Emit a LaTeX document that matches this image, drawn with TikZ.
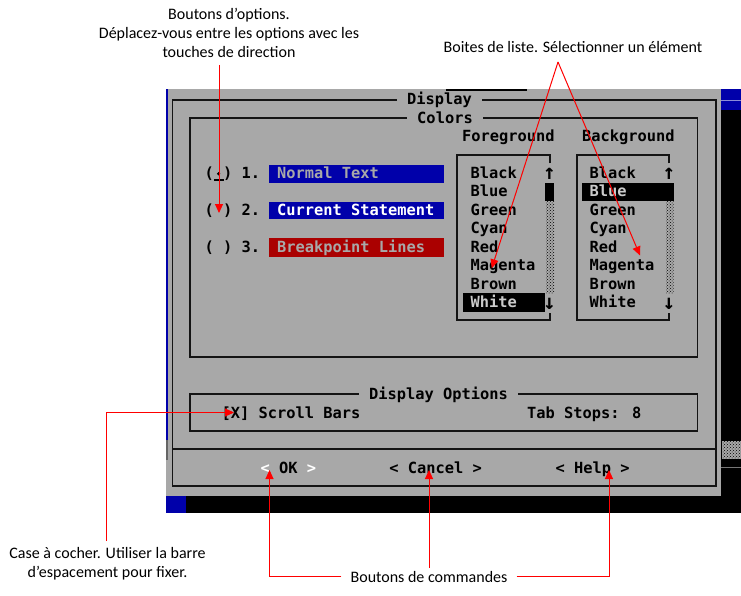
\documentclass[tikz,border=0pt]{standalone}
\usepackage{fontspec}
\setmainfont{Carlito}
\newfontfamily\dosfamily{DejaVu Sans Mono}
\usetikzlibrary{patterns,arrows.meta}
\definecolor{dosgrey}{RGB}{168,168,168}
\definecolor{dosblue}{RGB}{0,0,170}
\definecolor{dosred}{RGB}{170,0,0}
\definecolor{frameblack}{RGB}{20,20,20}
\newcommand\dosfnt{\dosfamily\bfseries\fontsize{15.37}{18}\selectfont}
\newcommand\dosarrowfnt{\dosfamily\bfseries\fontsize{21}{21}\selectfont}
\tikzset{
  dos/.style={font=\dosfnt, inner sep=0pt, anchor=base west, text=black},
  dosarrow/.style={font=\dosarrowfnt, inner sep=0pt, anchor=base, text=black},
  dostitle/.style={font=\dosfnt, inner xsep=9.8pt, inner ysep=1pt, anchor=base, fill=dosgrey, text=black},
  frame/.style={draw=frameblack, line width=1.8pt},
  track/.style={pattern=crosshatch dots, pattern color=black},
  ann/.style={font=\fontsize{16}{19}\selectfont, align=center, inner sep=0pt, anchor=base, text=black},
  callout/.style={draw=red, line width=1pt, -{Triangle[length=9pt,width=8pt]}},
}
\begin{document}
\begin{tikzpicture}[x=1pt,y=-1pt]
\useasboundingbox (0,0) rectangle (741,596);
% ---------------- screen background ----------------
\fill[dosgrey] (168,89) rectangle (721,496);
\fill[dosblue] (166,89) rectangle (168,440);
\fill[dosgrey!60!black] (166,440) rectangle (168,460);
\fill[dosgrey] (166,460) rectangle (168,496);
\fill[dosblue] (166,496) rectangle (186,513);
\fill[black] (186,496) rectangle (741,513);
\fill[black] (721,110) rectangle (741,496);
\fill[dosblue] (721,89) rectangle (741,110);
\draw[dosblue!45!white, line width=1pt] (721,100.3) -- (741,100.3);
\fill[dosgrey] (722,441) rectangle (741,459);
\fill[track] (722,441) rectangle (741,459);
\draw[dosgrey!70!black, line width=1.5pt] (721,467.7) -- (741,467.7);
\fill[black] (446,89) rectangle (527,91);
% ---------------- frames ----------------
\draw[frame] (172.5,100) rectangle (716,486);
\draw[frame] (190,118.3) rectangle (697.5,357.3);
\draw[frame] (190,394) rectangle (697.5,431);
\draw[frame] (172.5,449.3) -- (716,449.3);
\node[dostitle] (tdisplay) at (439.5,105) {Display};
\node[dostitle] (tcolors) at (445,123.3) {Colors};
\node[dostitle] (topts) at (438.5,399.6) {Display Options};
% ---------------- option buttons ----------------
\node[dos] (o1) at (204.5,178.8) {( ) 1.};
\node[dos] (o2) at (204.5,215.8) {( ) 2.};
\node[dos] (o3) at (204.5,252.8) {( ) 3.};
\fill[black] (218.6,173.8) circle (1.8);
\fill[black] (213.5,179) rectangle (223.5,181);
\fill[dosblue] (268.5,165) rectangle (443.7,182.7);
\fill[dosblue] (268.5,201.7) rectangle (443.7,219.3);
\fill[dosred] (268.5,238.3) rectangle (443.7,256.7);
\node[dos, text=dosgrey] (b1) at (277,178.8) {Normal Text};
\node[dos, text=white] (b2) at (277,215.8) {Current Statement};
\node[dos, text=dosgrey] (b3) at (277,252.8) {Breakpoint Lines};
% ---------------- list boxes ----------------
\node[dos] (hfg) at (462,142) {Foreground};
\node[dos] (hbg) at (582,142) {Background};
% foreground box
\draw[frame] (550,163.3) -- (550,155) -- (457,155) -- (457,320) -- (550,320) -- (550,313);
\fill[black] (545,183) rectangle (554,201);
\fill[dosgrey] (546,201) rectangle (554,293);
\fill[track] (546,201) rectangle (554,293);
\fill[black] (462.5,293.3) rectangle (545,311.7);
\node[dosarrow] (fup) at (549.5,180) {↑};
\node[dosarrow] (fdn) at (549.5,309) {↓};
\node[dos] (f1) at (470.5,178.3) {Black};
\node[dos] (f2) at (470.5,196.8) {Blue};
\node[dos] (f3) at (470.5,215.3) {Green};
\node[dos] (f4) at (470.5,233.8) {Cyan};
\node[dos] (f5) at (470.5,252.3) {Red};
\node[dos] (f6) at (470.5,270.8) {Magenta};
\node[dos] (f7) at (470.5,289.3) {Brown};
\node[dos, text=dosgrey!60!white] (f8) at (470.5,307.8) {White};
% background box
\draw[frame] (669.3,163.3) -- (669.3,155) -- (577,155) -- (577,320) -- (669.3,320) -- (669.3,313);
\fill[dosgrey] (666,201) rectangle (673.5,293);
\fill[track] (666,201) rectangle (673.5,293);
\fill[black] (582.3,183.3) rectangle (673.5,201);
\node[dosarrow] (bup) at (669,180) {↑};
\node[dosarrow] (bdn) at (669,309) {↓};
\node[dos] (g1) at (589.5,178.3) {Black};
\node[dos, text=dosgrey!60!white] (g2) at (589.5,196.8) {Blue};
\node[dos] (g3) at (589.5,215.3) {Green};
\node[dos] (g4) at (589.5,233.8) {Cyan};
\node[dos] (g5) at (589.5,252.3) {Red};
\node[dos] (g6) at (589.5,270.8) {Magenta};
\node[dos] (g7) at (589.5,289.3) {Brown};
\node[dos] (g8) at (589.5,307.8) {White};
% ---------------- display options ----------------
\node[dos] (scroll) at (221.5,418.3) {[X] Scroll Bars};
\node[dos] (tabs) at (527,418.3) {Tab Stops: 8};
% ---------------- command buttons ----------------
\node[dos] (ok) at (260.4,473.3) {{\color{white}<} OK {\color{white}>}};
\node[dos] (cancel) at (389.2,473.3) {< Cancel >};
\node[dos] (help) at (555.4,473.3) {< Help >};
% ---------------- annotations ----------------
\node[ann] (aopt) at (229,58) {Boutons d’options.\\Déplacez-vous entre les options avec les\\touches de direction};
\node[ann] (alist) at (573,53) {Boites de liste. Sélectionner un élément};
\node[ann] (acase) at (107.5,577) {Case à cocher. Utiliser la barre\\d’espacement pour fixer.};
\node[ann, inner xsep=9pt] (acmd) at (429,582) {Boutons de commandes};
\coordinate (p1s) at (219,65);
\coordinate (p1e) at (219,213);
\coordinate (p2s) at (558,62);
\coordinate (p2a) at (491.7,268.3);
\coordinate (p2b) at (640,255.5);
\coordinate (p3s) at (106.7,541);
\coordinate (p3c) at (106.7,412.5);
\coordinate (p3e) at (234,412.5);
\coordinate (pok) at (269.5,470);
\coordinate (pcan) at (429,470);
\coordinate (phelp) at (609,470);
\coordinate (pmid) at (429,568);
\draw[callout] (p1s) -- (p1e);
\draw[callout] (p2s) -- (p2a);
\draw[callout] (p2s) -- (p2b);
\draw[callout] (p3s) -- (p3c) -- (p3e);
\draw[callout] (acmd.west) -- (acmd.west -| pok) -- (pok);
\draw[callout] (pmid) -- (pcan);
\draw[callout] (acmd.east) -- (acmd.east -| phelp) -- (phelp);
\end{tikzpicture}
\end{document}
